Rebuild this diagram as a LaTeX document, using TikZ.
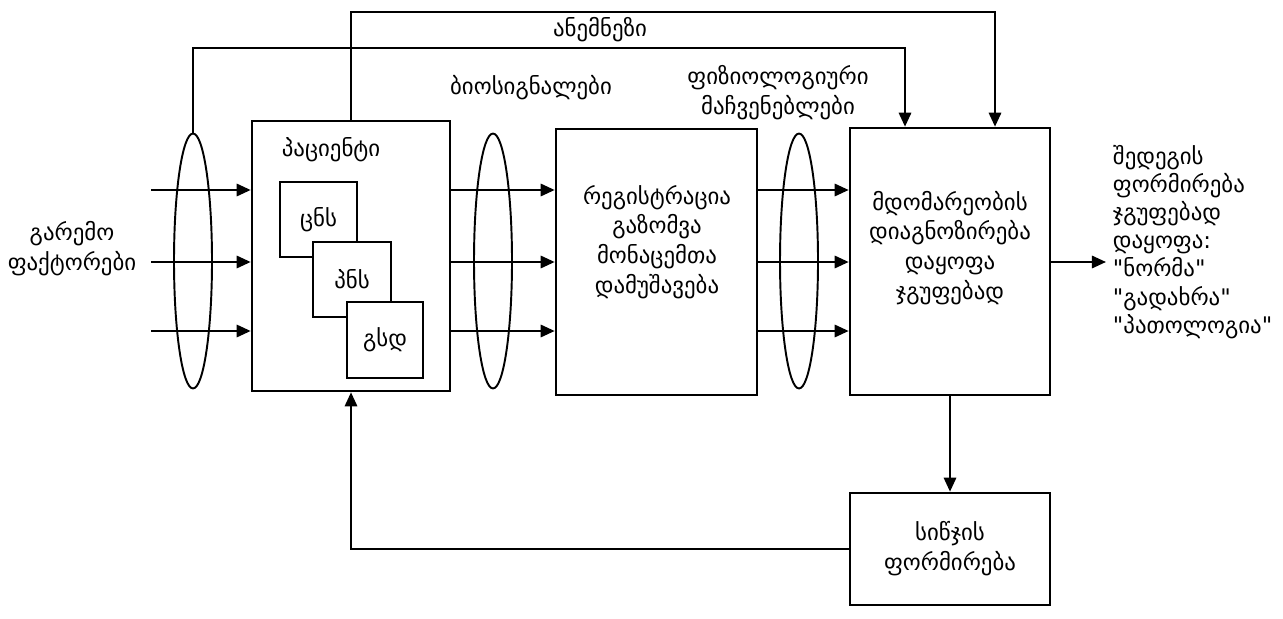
\documentclass[tikz,border=0pt]{standalone}
\usepackage{fontspec}
\newfontfamily\geo{DejaVu Sans}
\usetikzlibrary{arrows.meta,shapes.geometric}
\tikzset{
  blk/.style={draw, line width=1.5pt, fill=white, inner sep=0pt,
    font=\geo\fontsize{13}{17}\selectfont},
  lens/.style={draw, ellipse, line width=1.1pt, inner sep=0pt,
    minimum width=0.76cm, minimum height=5.1cm},
  lbl/.style={font=\geo\fontsize{13}{17}\selectfont, align=center, inner sep=1pt},
}
\begin{document}
\begin{tikzpicture}[x=0.02cm, y=-0.02cm, >={Triangle[length=8pt,width=7pt]}, line width=1.3pt]
\useasboundingbox (0,0) rectangle (1283,618);
% Bloecke
\node[blk, minimum width=3.96cm, minimum height=5.4cm] (pat) at (351,256) {};
\node[blk, minimum width=1.54cm, minimum height=1.5cm] (cns) at (318.5,219.5) {ცნს};
\node[blk, minimum width=1.56cm, minimum height=1.5cm] (pns) at (352,279.5) {პნს};
\node[blk, minimum width=1.52cm, minimum height=1.52cm] (gsd) at (385,340) {გსდ};
\node[blk, minimum width=4.02cm, minimum height=5.32cm] (reg) at (656.5,262) {};
\node[blk, minimum width=4.0cm, minimum height=5.34cm] (dia) at (950,261.5) {};
\node[blk, minimum width=4.0cm, minimum height=2.24cm, align=center] (fb) at (950,549)
  {სიწჯის\\ფორმირება};
% Linsen
\node[lens] (lensA) at (193,261) {};
\node[lens] (lensB) at (493,261) {};
\node[lens] (lensC) at (799,261) {};
% Pfeile in drei Reihen
\foreach \yy/\nn in {190/1,262/2,331/3} {
  \coordinate (row\nn) at (0,\yy);
  \coordinate (in\nn) at (151,\yy);
  \draw[->] (in\nn) -- (in\nn -| pat.west);
  \draw[->] (row\nn -| pat.east) -- (row\nn -| reg.west);
  \draw[->] (row\nn -| reg.east) -- (row\nn -| dia.west);
}
% Rueckkopplungen oben
\coordinate (ta) at (995,12);
\coordinate (tb) at (905,48);
\draw[->] (pat.north) |- (ta) -- (ta |- dia.north);
\draw[->] (lensA.north) |- (tb) -- (tb |- dia.north);
% Ausgang und Korrektur
\coordinate (out) at (1106,262);
\draw[->] (dia.east |- out) -- (out);
\draw[->] (dia.south) -- (fb.north);
\draw[->] (fb.west) -| (pat.south);
% Texte
\node[lbl] (env)  at (72,249)  {გარემო\\ფაქტორები};
\node[lbl] (patt) at (331,150) {პაციენტი};
\node[lbl] (bio)  at (531,88)  {ბიოსიგნალები};
\node[lbl] (phy)  at (778,93)  {ფიზიოლოგიური\\მაჩვენებლები};
\node[lbl] (anam) at (600,30)  {ანემნეზი};
\node[lbl] (regt) at (657,242) {რეგისტრაცია\\გაზომვა\\მონაცემთა\\დამუშავება};
\node[lbl] (diat) at (950,248) {მდომარეობის\\დიაგნოზირება\\დაყოფა\\ჯგუფებად};
\node[lbl, anchor=west, align=left, font=\geo\fontsize{13}{16}\selectfont] (res) at (1110,242)
  {შედეგის\\ფორმირება\\ჯგუფებად\\დაყოფა:\\"ნორმა"\\"გადახრა"\\"პათოლოგია"};
\end{tikzpicture}
\end{document}
